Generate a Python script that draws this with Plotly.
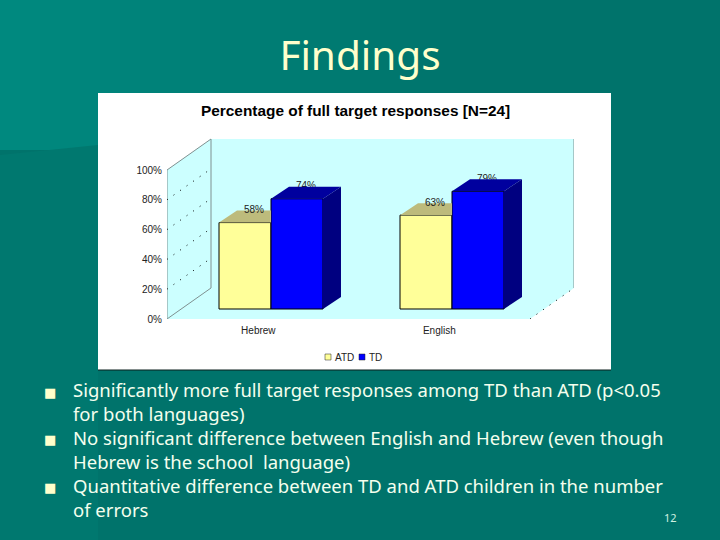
import plotly.graph_objects as go

categories = ["Hebrew", "English"]
atd_values = [58, 63]
td_values = [74, 79]
y_ticks = [0, 20, 40, 60, 80, 100]
grid_values = [20, 40, 60, 80]
title_text = "Findings"
chart_title = "Percentage of full target responses [N=24]"
bullets = [
    "Significantly more full target responses among TD than ATD (p<0.05<br>for both languages)",
    "No significant difference between English and Hebrew (even though<br>Hebrew is the school  language)",
    "Quantitative difference between TD and ATD children in the number<br>of errors",
]
bullet_y = [401, 449, 497.5]
mark_y = [392, 439, 487]

W, H = 720, 540
# plot box of the 3d chart, in page pixels
LEFT, RIGHT, TOP, BOTTOM = 167, 574, 137, 319
PX_PER_PCT = 1.49
GROUP_PX = 181
BAR_W = 52 / GROUP_PX
BAR_DX, BAR_DY = 18 / GROUP_PX, 12 / PX_PER_PCT
WALL_DX, WALL_DY = 44 / GROUP_PX, 31 / PX_PER_PCT
BASE_OFFSET = 10 / PX_PER_PCT

x_min = (LEFT - 271) / GROUP_PX
x_max = (RIGHT - 271) / GROUP_PX
y_top = (BOTTOM - TOP) / PX_PER_PCT


def px(x):
    return x / W


def py(y):
    return 1 - y / H


def poly(xs, ys, fill, line=None, yaxis="y2"):
    return go.Scatter(x=xs, y=ys, mode="lines", fill="toself", fillcolor=fill, yaxis=yaxis,
                      line=dict(color=line if line else fill, width=1 if line else 0),
                      showlegend=False, hoverinfo="skip")


def edge(xs, ys, color="#7F9090", dash="solid"):
    return go.Scatter(x=xs, y=ys, mode="lines", yaxis="y", line=dict(color=color, width=1, dash=dash),
                      showlegend=False, hoverinfo="skip")


def label(x, y, value):
    return go.Scatter(x=[x], y=[y], mode="text", text=[f"{value}%"], yaxis="y2",
                      textfont=dict(family="Liberation Sans", size=10, color="#222222"),
                      showlegend=False, hoverinfo="skip")


fig = go.Figure()

# walls and floor
fx = x_min
bx = x_min + WALL_DX
rx = x_max
fig.add_trace(poly([bx, rx, rx, rx - WALL_DX, fx, fx, bx],
                   [100 + WALL_DY, 100 + WALL_DY, WALL_DY, 0, 0, 100, 100 + WALL_DY], "#CCFFFF", yaxis="y"))
fig.add_trace(edge([fx, fx, bx, bx, fx], [0, 100, 100 + WALL_DY, WALL_DY, 0]))
fig.add_trace(edge([rx, rx], [100 + WALL_DY, WALL_DY]))
fig.add_trace(edge([rx - WALL_DX, rx], [0, WALL_DY], color="black", dash="1px,7px"))
for v in grid_values:
    fig.add_trace(edge([fx, bx], [v, v + WALL_DY], color="black", dash="1px,7px"))

# front faces of the bars
fig.add_trace(go.Bar(x=[0, 1], y=atd_values, name="ATD", offset=-BAR_W, width=BAR_W, yaxis="y2",
                     marker=dict(color="#FFFF99", line=dict(color="black", width=1)), showlegend=False))
fig.add_trace(go.Bar(x=[0, 1], y=td_values, name="TD", offset=0, width=BAR_W, yaxis="y2",
                     marker=dict(color="#0000FF", line=dict(color="black", width=1)), showlegend=False))

# tops and sides
for i in range(len(categories)):
    a, t = atd_values[i], td_values[i]
    # top of ATD, cut by the TD bar
    fig.add_trace(poly([i - BAR_W, i, i, i - BAR_W + BAR_DX], [a, a, a + BAR_DY, a + BAR_DY], "#BDBB7C"))
    fig.add_trace(label(i - BAR_W / 2 + BAR_DX / 2, a + BAR_DY, a))
    fig.add_trace(label(i + BAR_W / 2 + BAR_DX / 2, t + BAR_DY, t))
    fig.add_trace(poly([i, i + BAR_W, i + BAR_W + BAR_DX, i + BAR_DX], [t, t, t + BAR_DY, t + BAR_DY], "#00009E"))
    fig.add_trace(poly([i + BAR_W, i + BAR_W + BAR_DX, i + BAR_W + BAR_DX, i + BAR_W],
                       [0, BAR_DY, t + BAR_DY, t], "#000080"))

# slide background, lighter towards the top left
shapes = []
for s in range(24):
    g = 0x89 - (0x89 - 0x73) * s / 23
    b = 0x7F - (0x7F - 0x6B) * s / 23
    shapes.append(dict(type="rect", xref="paper", yref="paper", x0=px(s * 20), x1=px((s + 1) * 20 + 1), y0=py(150), y1=1,
                       fillcolor=f"rgb(0,{g:.0f},{b:.0f})", line_width=0, layer="below"))
shapes.append(dict(type="path", xref="paper", yref="paper", layer="below", line_width=0, fillcolor="#00786F",
                   path=f"M 0 {py(155)} L {px(98)} {py(145)} L {px(98)} 0 L 0 0 Z"))
shapes.append(dict(type="rect", xref="paper", yref="paper", x0=px(98), x1=px(611), y0=py(370), y1=py(93),
                   fillcolor="white", line_width=0, layer="below"))
shapes.append(dict(type="line", xref="paper", yref="paper", x0=px(98), x1=px(611), y0=py(370), y1=py(370),
                   line=dict(color="#0A1F1C", width=1), layer="below"))
# legend swatches
for x0, color in [(325, "#FFFF99"), (359, "#0000FF")]:
    shapes.append(dict(type="rect", xref="paper", yref="paper", x0=px(x0), x1=px(x0 + 6), y0=py(360), y1=py(354),
                       fillcolor=color, line=dict(color="#222222", width=0.5)))


def note(text, x, y, font, xanchor="center"):
    return dict(text=text, x=px(x), y=py(y), xref="paper", yref="paper", showarrow=False,
                xanchor=xanchor, yanchor="middle", align=xanchor, font=font)


annotations = [note(chart_title, 355, 110, dict(family="Liberation Sans", size=15.4, color="black", weight="bold"))]
for line, y in zip(bullets, bullet_y):
    annotations.append(note(line, 71, y, dict(family="Noto Sans", size=18.5, color="#F4FFEE"), xanchor="left"))
for y in mark_y:
    annotations.append(note("■", 50, y, dict(family="DejaVu Sans", size=13, color="#FFFFCC")))
annotations.append(note("12", 670, 517, dict(family="Noto Sans", size=11, color="#D0F0E0")))
annotations.append(note("ATD", 333, 357, dict(family="Liberation Sans", size=10, color="#222222"), xanchor="left"))
annotations.append(note("TD", 367, 357, dict(family="Liberation Sans", size=10, color="#222222"), xanchor="left"))

fig.update_layout(
    width=W, height=H, margin=dict(l=0, r=0, t=0, b=0, autoexpand=False), paper_bgcolor="#00736B",
    plot_bgcolor="rgba(0,0,0,0)", showlegend=False,
    title=dict(text=title_text, x=0.5, xanchor="center", y=py(56), yanchor="middle",
               font=dict(family="Noto Sans", size=40.5, color="#FFFFCC")),
    barmode="overlay", shapes=shapes, annotations=annotations,
    xaxis=dict(domain=[px(LEFT), px(RIGHT)], range=[x_min, x_max], tickvals=[-0.07, 0.93], ticktext=categories,
               showgrid=False, zeroline=False, showline=False, ticks="outside", ticklen=2, tickcolor="rgba(0,0,0,0)",
               automargin=False, tickfont=dict(family="Liberation Sans", size=10, color="#222222")),
    yaxis=dict(domain=[py(BOTTOM), py(TOP)], range=[0, y_top], tickvals=y_ticks, ticktext=[f"{v}%" for v in y_ticks],
               showgrid=False, zeroline=False, showline=False, ticks="outside", ticklen=2, tickcolor="rgba(0,0,0,0)",
               automargin=False, tickfont=dict(family="Liberation Sans", size=10, color="#222222")),
    yaxis2=dict(domain=[py(BOTTOM), py(TOP)], range=[-BASE_OFFSET, y_top - BASE_OFFSET], overlaying="y", visible=False,
                automargin=False),
)

fig.write_html("out.html", config={"displayModeBar": False}, post_script="document.body.style.margin='0';")
